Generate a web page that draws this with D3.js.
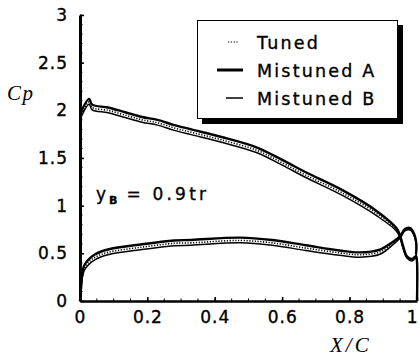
<!DOCTYPE html>
<html><head><meta charset="utf-8">
<script src="https://cdn.jsdelivr.net/npm/d3@7"></script>
<style>body{margin:0;background:#fff} svg{display:block}</style>
</head><body>
<svg id="c" width="419" height="359"></svg>
<script>
const xTicks = [0, 0.2, 0.4, 0.6, 0.8, 1];
const xTickLabels = ["0", "0.2", "0.4", "0.6", "0.8", "1"];
const yTicks = [0, 0.5, 1, 1.5, 2, 2.5, 3];
const yTickLabels = ["0", "0.5", "1", "1.5", "2", "2.5", "3"];
const seriesNames = ["Tuned", "Mistuned A", "Mistuned B"];

// upper branch (high Cp near leading edge), including trailing-edge loop
const upperX     = [0, 0.027, 0.036, 0.083, 0.134, 0.184, 0.23, 0.28, 0.33, 0.42, 0.525, 0.60, 0.67, 0.78, 0.88, 0.94, 0.95, 0.958, 0.97, 0.985, 0.997, 1.0, 1.0];
const upperTuned = [1.93, 2.09, 2.03, 2.00, 1.95, 1.90, 1.87, 1.815, 1.77, 1.69, 1.58, 1.45, 1.32, 1.13, 0.92, 0.745, 0.67, 0.57, 0.46, 0.43, 0.46, 0.40, 0.0];
const upperA     = [1.96, 2.12, 2.06, 2.03, 1.98, 1.93, 1.90, 1.845, 1.80, 1.72, 1.61, 1.48, 1.35, 1.16, 0.945, 0.76, 0.685, 0.585, 0.47, 0.44, 0.47, 0.41, 0.0];
const upperB     = [1.905, 2.065, 2.005, 1.975, 1.925, 1.875, 1.845, 1.79, 1.745, 1.665, 1.555, 1.425, 1.295, 1.105, 0.895, 0.73, 0.655, 0.56, 0.45, 0.42, 0.45, 0.39, 0.0];

// lower branch (low Cp near leading edge)
const lowerX     = [0, 0.003, 0.006, 0.012, 0.024, 0.045, 0.083, 0.184, 0.28, 0.33, 0.475, 0.57, 0.67, 0.77, 0.83, 0.89, 0.93, 0.95, 0.964, 0.98, 0.992, 0.998, 0.997];
const lowerTuned = [0, 0.12, 0.25, 0.34, 0.40, 0.46, 0.51, 0.565, 0.605, 0.61, 0.635, 0.61, 0.555, 0.505, 0.485, 0.515, 0.61, 0.67, 0.745, 0.755, 0.69, 0.59, 0.48];
const lowerA     = [0, 0.13, 0.27, 0.37, 0.43, 0.49, 0.54, 0.595, 0.635, 0.64, 0.665, 0.64, 0.585, 0.53, 0.51, 0.54, 0.625, 0.68, 0.755, 0.765, 0.70, 0.60, 0.49];
const lowerB     = [0, 0.11, 0.225, 0.315, 0.375, 0.435, 0.485, 0.54, 0.58, 0.585, 0.61, 0.585, 0.53, 0.48, 0.46, 0.49, 0.595, 0.66, 0.735, 0.745, 0.68, 0.58, 0.47];

const svg = d3.select("#c");
const x = d3.scaleLinear().domain([0, 1]).range([80, 417]);
const y = d3.scaleLinear().domain([0, 3]).range([301, 15]);
const sans = "DejaVu Sans, sans-serif";
const serif = "Liberation Serif, serif";

const styles = {
  "Tuned": {w: 1.6, dash: "1.2,1.6"},
  "Mistuned A": {w: 2.4, dash: null},
  "Mistuned B": {w: 1.5, dash: null}
};
const data = {
  "Tuned": [upperTuned, lowerTuned],
  "Mistuned A": [upperA, lowerA],
  "Mistuned B": [upperB, lowerB]
};
const line = d3.line().x(d => x(d[0])).y(d => y(d[1])).curve(d3.curveCatmullRom.alpha(0.5));

["Mistuned A", "Mistuned B", "Tuned"].forEach(name => {
  const [u, l] = data[name];
  const st = styles[name];
  [[upperX, u], [lowerX, l]].forEach(([xs, ys]) => {
    svg.append("path")
      .attr("d", line(xs.map((v, i) => [v, ys[i]])))
      .attr("fill", "none").attr("stroke", "#000")
      .attr("stroke-width", st.w)
      .attr("stroke-dasharray", st.dash)
      .attr("stroke-linejoin", "round");
  });
});

function heavy(sel) {
  sel.attr("font-family", sans).attr("fill", "#000").attr("stroke", "#000").attr("stroke-width", 0.35);
}

// axes
const yAxis = d3.axisLeft(y).tickValues(yTicks).tickFormat((d, i) => yTickLabels[i]).tickSizeInner(-4).tickSizeOuter(0).tickPadding(12);
const gy = svg.append("g").attr("transform", "translate(80,0)").call(yAxis);
gy.select(".domain").attr("stroke-width", 3);
gy.selectAll(".tick line").attr("stroke-width", 1.5);
gy.selectAll("text").call(heavy).attr("font-size", 17).attr("letter-spacing", 1);

const xAxis = d3.axisBottom(x).tickValues(xTicks).tickFormat((d, i) => xTickLabels[i]).tickSizeInner(-4).tickSizeOuter(0).tickPadding(10);
const gx = svg.append("g").attr("transform", "translate(0,301)").call(xAxis);
gx.select(".domain").attr("stroke-width", 2.5);
gx.selectAll(".tick line").attr("stroke-width", 1.5);
gx.selectAll("text").call(heavy).attr("font-size", 17).attr("letter-spacing", 1);
gx.selectAll("text").filter((d, i) => i === xTicks.length - 1)
  .attr("text-anchor", "end").attr("dx", 0).attr("letter-spacing", 0);

// minor ticks
svg.append("g").selectAll("line").data(d3.range(0, 3.01, 0.1)).join("line")
  .attr("x1", 80).attr("x2", 82.5).attr("y1", d => y(d)).attr("y2", d => y(d))
  .attr("stroke", "#000").attr("stroke-width", 1);
svg.append("g").selectAll("line").data(d3.range(0, 1.001, 0.05)).join("line")
  .attr("x1", d => x(d)).attr("x2", d => x(d)).attr("y1", 301).attr("y2", 298.5)
  .attr("stroke", "#000").attr("stroke-width", 1);

// axis titles
svg.append("text").attr("x", 7).attr("y", 100).attr("font-family", serif).attr("font-style", "italic")
  .attr("font-size", 21).attr("letter-spacing", 1.5).text("Cp");
svg.append("text").attr("x", 330).attr("y", 352).attr("font-family", serif).attr("font-style", "italic")
  .attr("font-size", 21).attr("letter-spacing", 3).text("X/C");

// annotation
const ann = svg.append("text").attr("x", 96).attr("y", 200).call(heavy).attr("font-size", 17);
ann.append("tspan").text("y");
ann.append("tspan").attr("font-size", 11).attr("font-weight", "bold").attr("dy", 4).attr("dx", 3).text("B");
ann.append("tspan").attr("dy", -4).attr("dx", 9).attr("letter-spacing", 3.2).text("= 0.9tr");

// legend
svg.append("rect").attr("x", 202).attr("y", 25).attr("width", 201).attr("height", 99).attr("fill", "#000");
svg.append("rect").attr("x", 197.5).attr("y", 20.5).attr("width", 200).attr("height", 98)
  .attr("fill", "#fff").attr("stroke", "#000").attr("stroke-width", 1);
const legRows = [
  {name: seriesNames[0], y: 42, x1: 228, x2: 238},
  {name: seriesNames[1], y: 70, x1: 217, x2: 243},
  {name: seriesNames[2], y: 98, x1: 226, x2: 243}
];
legRows.forEach(r => {
  const st = styles[r.name];
  svg.append("line").attr("x1", r.x1).attr("x2", r.x2).attr("y1", r.y).attr("y2", r.y)
    .attr("stroke", "#000").attr("stroke-width", r.name === "Mistuned A" ? 3 : (r.name === "Mistuned B" ? 1.5 : 1.2))
    .attr("stroke-dasharray", st.dash);
  svg.append("text").attr("x", 257).attr("y", r.y + 6.5).call(heavy)
    .attr("font-size", 17.5).attr("letter-spacing", 2.2).text(r.name);
});
</script>
</body></html>
